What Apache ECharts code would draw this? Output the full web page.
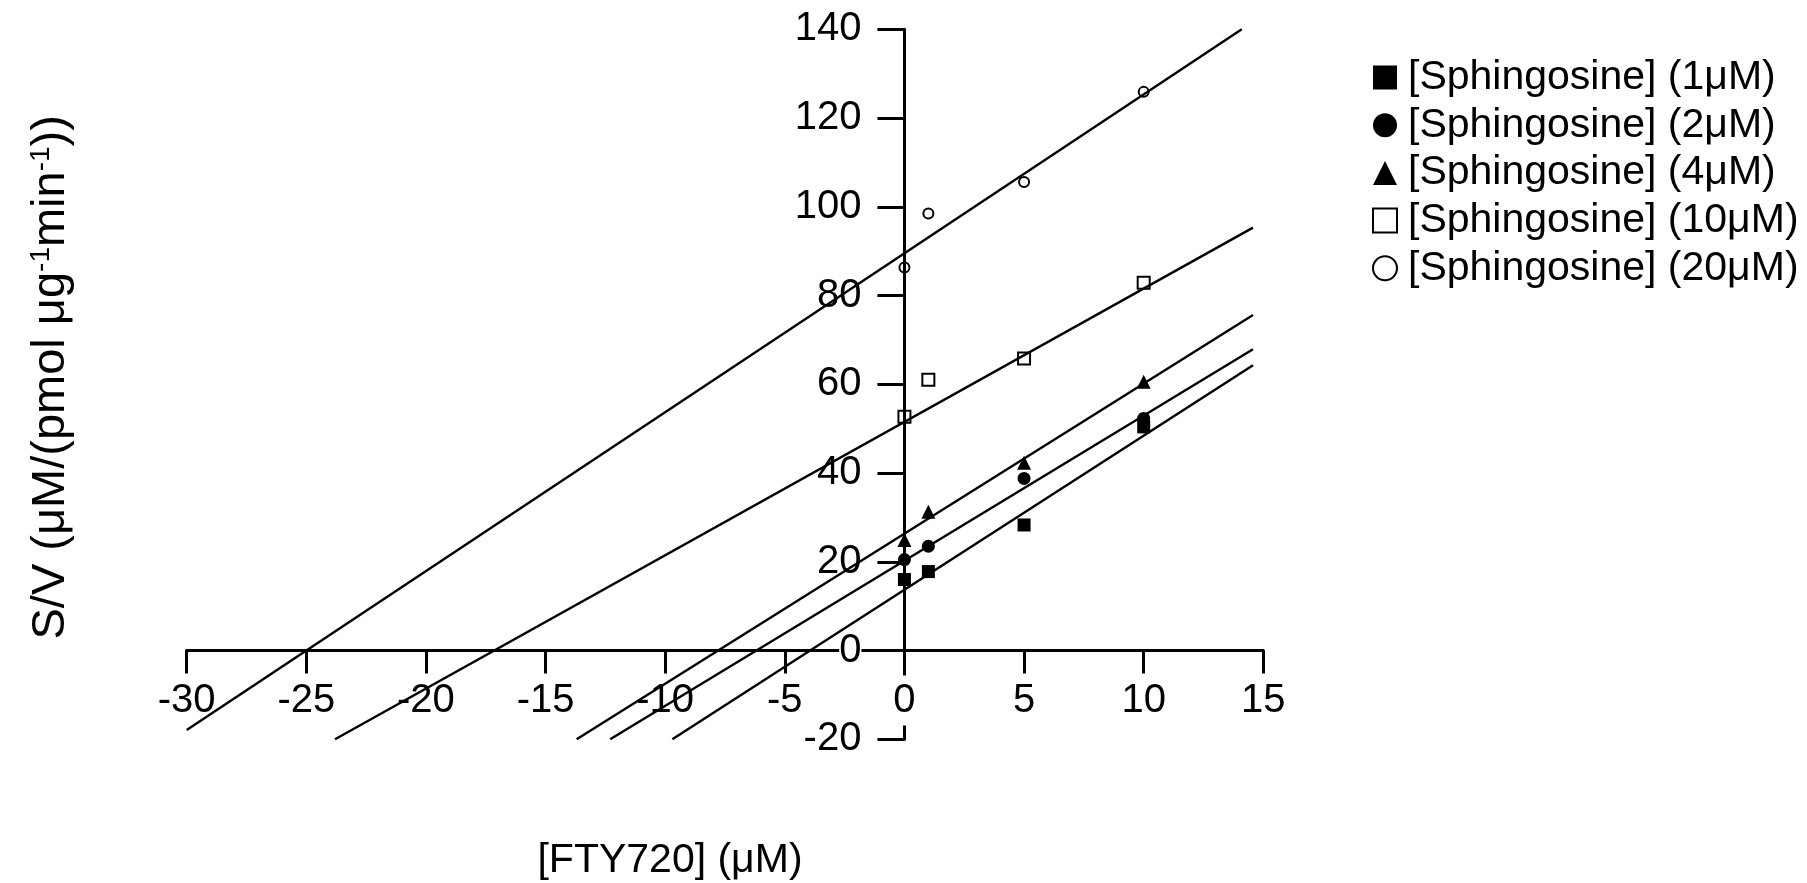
<!DOCTYPE html>
<html>
<head>
<meta charset="utf-8">
<script src="https://cdn.jsdelivr.net/npm/echarts@6/dist/echarts.min.js"></script>
<style>
html,body{margin:0;padding:0;background:#fff;}
#chart{width:1807px;height:883px;}
</style>
</head>
<body>
<div id="chart"></div>
<script>
// ---- data ----
const seriesNames = ['[Sphingosine] (1μM)', '[Sphingosine] (2μM)', '[Sphingosine] (4μM)', '[Sphingosine] (10μM)', '[Sphingosine] (20μM)'];
const fty720 = [0, 1, 5, 10];
const sv1 = [16.0, 17.8, 28.3, 50.4];
const sv2 = [20.5, 23.5, 38.8, 52.3];
const sv4 = [24.9, 31.3, 42.3, 60.6];
const sv10 = [52.7, 61.0, 65.8, 82.9];
const sv20 = [86.3, 98.5, 105.6, 125.9];
// regression line end points as drawn [x, y]
const fit1 = [[-9.7, -20], [14.57, 64.3]];
const fit2 = [[-12.3, -20], [14.57, 67.9]];
const fit4 = [[-13.7, -20], [14.57, 75.6]];
const fit10 = [[-23.8, -20], [14.57, 95.3]];
const fit20 = [[-30, -17.9], [14.1, 140]];
const xMin = -30, xMax = 15, xStep = 5;
const yMin = -20, yMax = 140, yStep = 20;

const FONT = "'Liberation Sans', Arial, sans-serif";
const values = [sv1, sv2, sv4, sv10, sv20];
const fits = [fit1, fit2, fit4, fit10, fit20];
const symbols = ['rect', 'circle', 'triangle', 'rect', 'circle'];
const sizes = [13, 13, 14, 12, 10];
const open = [false, false, false, true, true];

// grid geometry (px)
const W = 1807, H = 883;
const G = {left: 186.7, right: 543.7, top: 29.3, bottom: 143.7};
const gridW = W - G.left - G.right, gridH = H - G.top - G.bottom;
// axes cross at zero: shift each axis from the grid edge to the zero line
const xAxisOffset = -((0 - yMin) / (yMax - yMin)) * gridH;
const yAxisOffset = -((0 - xMin) / (xMax - xMin)) * gridW;

const chart = echarts.init(document.getElementById('chart'), null, {renderer: 'canvas'});

const series = [];
fits.forEach((f, i) => {
  series.push({
    type: 'line', name: 'fit' + i, data: f, symbol: 'none', showSymbol: false,
    lineStyle: {color: '#000', width: 2.4}, clip: true, z: 2, silent: true, animation: false
  });
});
values.forEach((v, i) => {
  series.push({
    type: 'scatter', name: seriesNames[i], symbol: symbols[i], symbolSize: sizes[i],
    data: fty720.map((x, j) => [x, v[j]]),
    itemStyle: open[i] ? {color: 'rgba(255,255,255,0)', borderColor: '#000', borderWidth: 2, opacity: 1}
                       : {color: '#000', opacity: 1},
    z: 3, animation: false
  });
});

const option = {
  backgroundColor: '#fff',
  animation: false,
  textStyle: {fontFamily: FONT},
  grid: {left: G.left, right: G.right, top: G.top, bottom: G.bottom, containLabel: false, outerBoundsMode: 'none'},
  legend: {
    orient: 'vertical', left: 1367, top: 52,
    itemWidth: 24, itemHeight: 24, itemGap: 6.7,
    textStyle: {fontSize: 41, color: '#000', lineHeight: 40, fontFamily: FONT, padding: [0, 0, 0, 6]},
    data: seriesNames.map((n, i) => {
      const d = {name: n, icon: symbols[i], itemStyle: {opacity: 1}};
      if (open[i]) d.itemStyle = {color: '#fff', borderColor: '#000', borderWidth: 2, opacity: 1};
      return d;
    })
  },
  xAxis: {
    type: 'value', min: xMin, max: xMax, interval: xStep, position: 'bottom', offset: xAxisOffset,
    axisLine: {show: true, onZero: false, lineStyle: {color: '#000', width: 3}},
    axisTick: {show: true, length: 23, lineStyle: {color: '#000', width: 3}},
    splitLine: {show: false},
    axisLabel: {fontSize: 40, color: '#000', margin: 25, lineHeight: 50, backgroundColor: '#fff', fontFamily: FONT},
    name: '[FTY720] (μM)', nameLocation: 'middle', nameGap: 190,
    nameTextStyle: {fontSize: 41, color: '#000', fontFamily: FONT, padding: [0, 110, 0, 0]},
    z: 0
  },
  yAxis: {
    type: 'value', min: yMin, max: yMax, interval: yStep, position: 'left', offset: yAxisOffset,
    axisLine: {show: true, onZero: false, lineStyle: {color: '#000', width: 3}},
    axisTick: {show: true, length: 27, lineStyle: {color: '#000', width: 3}},
    splitLine: {show: false},
    axisLabel: {fontSize: 40, color: '#000', margin: 43, backgroundColor: '#fff', fontFamily: FONT},
    name: 'S/V (μM/(pmol μg{sup|-1}min{sup|-1}))', nameLocation: 'middle', nameGap: 830, nameRotate: 90,
    nameTextStyle: {fontSize: 47, color: '#000', fontFamily: FONT, padding: [0, 0, 0, 14],
      rich: {sup: {fontSize: 28, color: '#000', fontFamily: FONT, verticalAlign: 'top'}}},
    z: 0
  },
  series: series
};
chart.setOption(option);
</script>
</body>
</html>
